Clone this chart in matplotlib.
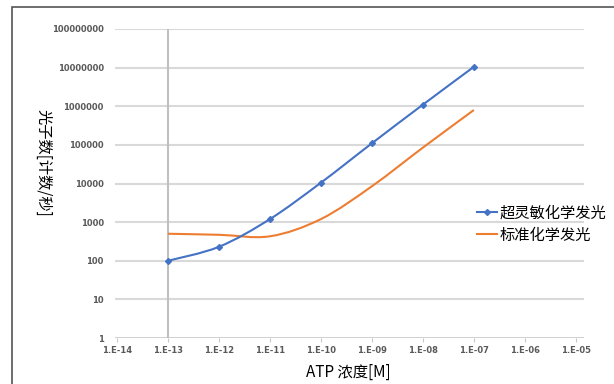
import matplotlib
matplotlib.use('Agg')
import matplotlib.pyplot as plt
import numpy as np
from matplotlib.path import Path
from matplotlib.patches import PathPatch, Rectangle
from matplotlib.lines import Line2D

plt.rcParams['font.family'] = ['Noto Sans CJK SC', 'DejaVu Sans']

# data
atp = [1e-13, 1e-12, 1e-11, 1e-10, 1e-09, 1e-08, 1e-07]
ultra = [100, 230, 1200, 10500, 110000, 1100000, 10500000]
standard = [500, 470, 430, 1200, 8500, 85000, 800000]
x_ticks = [1e-14, 1e-13, 1e-12, 1e-11, 1e-10, 1e-09, 1e-08, 1e-07, 1e-06, 1e-05]
x_ticklabels = ['1.E-14', '1.E-13', '1.E-12', '1.E-11', '1.E-10',
                '1.E-09', '1.E-08', '1.E-07', '1.E-06', '1.E-05']
y_ticks = [1, 10, 100, 1000, 10000, 100000, 1000000, 10000000, 100000000]
y_ticklabels = [str(v) for v in y_ticks]
series_names = ['超灵敏化学发光', '标准化学发光']

BLUE = '#4472C4'
ORANGE = '#ED7D31'


def smooth_path(xs, ys):
    # catmull-rom style smoothing (like excel's smoothed line), done in log space
    lx = np.log10(xs)
    ly = np.log10(ys)
    p = np.column_stack([lx, ly])
    pts = np.vstack([p[0], p, p[-1]])
    verts = [p[0]]
    codes = [Path.MOVETO]
    for i in range(1, len(pts) - 2):
        c1 = pts[i] + (pts[i + 1] - pts[i - 1]) / 6
        c2 = pts[i + 1] - (pts[i + 2] - pts[i]) / 6
        verts += [c1, c2, pts[i + 1]]
        codes += [Path.CURVE4] * 3
    return Path(10 ** np.array(verts), codes)


fig = plt.figure(figsize=(6.14, 3.84), dpi=100)
W, H = 614, 384
ax = fig.add_axes([115 / W, 46 / H, (584 - 115) / W, (338 - 29) / H])

# outer frame
fig.patches.append(Rectangle((12 / W, -0.1), 1.1, (377 / H) + 0.1, transform=fig.transFigure,
                             fill=False, edgecolor='#555555', linewidth=1.2))

ax.set_xscale('log')
ax.set_yscale('log')
ax.set_xlim(10 ** -14.04, 10 ** -4.84)
ax.set_ylim(1, 1e8)

for v in y_ticks[1:]:
    ax.axhline(v, color='#d9d9d9', linewidth=1.5, zorder=0)
ax.axhline(1, color='#c8c8c8', linewidth=1.2, zorder=0)
ax.axvline(1e-13, color='#c0c0c0', linewidth=1.5, zorder=0)

for s in ax.spines.values():
    s.set_visible(False)

ax.set_xticks(x_ticks)
ax.set_xticklabels(x_ticklabels)
ax.set_yticks(y_ticks)
ax.set_yticklabels(y_ticklabels)
ax.minorticks_off()
ax.tick_params(axis='x', length=3, color='#c8c8c8', labelsize=6, labelcolor='#595959', pad=3)
ax.tick_params(axis='y', length=0, labelsize=6, labelcolor='#595959', pad=8)
for t in ax.get_xticklabels() + ax.get_yticklabels():
    t.set_family('DejaVu Sans')
    t.set_fontweight('bold')

ax.add_patch(PathPatch(smooth_path(atp, standard), facecolor='none', edgecolor=ORANGE,
                       linewidth=1.5, zorder=3))
ax.add_patch(PathPatch(smooth_path(atp, ultra), facecolor='none', edgecolor=BLUE,
                       linewidth=1.5, zorder=4))
ax.plot(atp, ultra, linestyle='none', marker='D', markersize=3, color=BLUE, zorder=5)

handles = [Line2D([], [], color=BLUE, linewidth=1.5, marker='D', markersize=3),
           Line2D([], [], color=ORANGE, linewidth=1.5)]
fig.legend(handles, series_names, loc='center left', bbox_to_anchor=(477 / W, 1 - 224 / H),
           frameon=False, fontsize=11, handlelength=1.3, handletextpad=0.15,
           labelspacing=0.35, borderaxespad=0, borderpad=0)

fig.text(348 / W, 1 - 372 / H, 'ATP 浓度[M]', ha='center', va='center', fontsize=11)
fig.text(43 / W, 1 - 163 / H, '光子数[计数/秒]', ha='center', va='center', fontsize=11,
         rotation=270)

fig.savefig('out.png', dpi=100)
